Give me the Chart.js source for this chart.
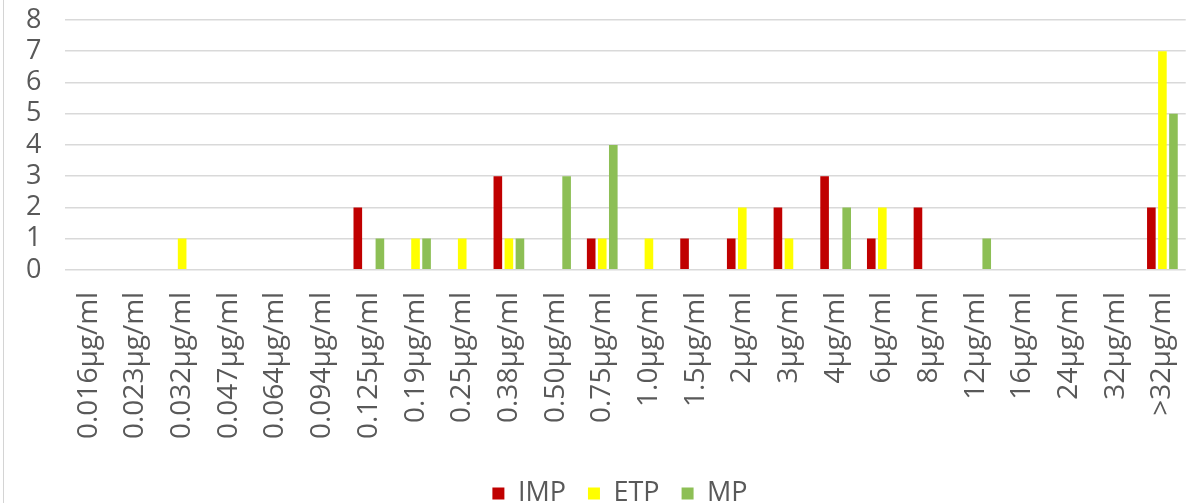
<!DOCTYPE html>
<html>
<head>
<meta charset="utf-8">
<script src="https://cdn.jsdelivr.net/npm/chart.js@4/dist/chart.umd.min.js"></script>
<style>
  html, body { margin: 0; padding: 0; background: #fff; }
  #frame { position: absolute; left: 3px; top: 0; width: 1px; height: 503px; background: #d4d4d4; }
  #mic { position: absolute; left: 0; top: 0; }
</style>
</head>
<body>
<div id="frame"></div>
<canvas id="mic" width="1196" height="503"></canvas>
<script>
const concentrations = ["0.016µg/ml","0.023µg/ml","0.032µg/ml","0.047µg/ml","0.064µg/ml","0.094µg/ml",
  "0.125µg/ml","0.19µg/ml","0.25µg/ml","0.38µg/ml","0.50µg/ml","0.75µg/ml","1.0µg/ml","1.5µg/ml",
  "2µg/ml","3µg/ml","4µg/ml","6µg/ml","8µg/ml","12µg/ml","16µg/ml","24µg/ml","32µg/ml",">32µg/ml"]

const imp = [0,0,0,0,0,0, 2,0,0,3,0,1, 0,1,1,2,3,1, 2,0,0,0,0,2]
const etp = [0,0,1,0,0,0, 0,1,1,1,0,1, 1,0,2,1,0,2, 0,0,0,0,0,7]
const mp  = [0,0,0,0,0,0, 1,1,0,1,3,4, 0,0,0,0,2,0, 0,1,0,0,0,5]

const yMax = 8
const yStep = 1

const textColor = "#595959"
const fontFamily = "'Open Sans', sans-serif"

const ctx = document.getElementById("mic").getContext("2d")
new Chart(ctx, {
  type: "bar",
  data: {
    labels: concentrations,
    datasets: [
      { label: "IMP", data: imp, backgroundColor: "#C00000" },
      { label: "ETP", data: etp, backgroundColor: "#FFFF00" },
      { label: "MP",  data: mp,  backgroundColor: "#8DBF55" }
    ]
  },
  options: {
    responsive: false,
    animation: false,
    layout: { padding: { left: 26, right: -18, top: 20, bottom: -14 } },
    datasets: {
      bar: { categoryPercentage: 0.71, barPercentage: 0.78 }
    },
    scales: {
      x: {
        // tick marks hidden, their length only keeps the labels off the axis
        grid: { display: false, drawTicks: true, tickLength: 22 },
        border: { display: false },
        ticks: {
          color: textColor,
          font: { family: fontFamily, size: 28 },
          minRotation: 90,
          maxRotation: 90,
          autoSkip: false,
          padding: 0
        },
        // extra room between the rotated labels and the legend
        afterFit: scale => { scale.height += 19 }
      },
      y: {
        min: 0,
        max: yMax,
        grid: { color: "#d9d9d9", lineWidth: 1.5, drawTicks: true, tickLength: 24, tickColor: "transparent" },
        border: { display: false },
        ticks: {
          stepSize: yStep,
          autoSkip: false,
          color: textColor,
          font: { family: fontFamily, size: 27 },
          padding: 0
        }
      }
    },
    plugins: {
      legend: {
        position: "bottom",
        labels: {
          color: textColor,
          font: { family: fontFamily, size: 27 },
          boxWidth: 12,
          boxHeight: 12,
          padding: 22
        }
      },
      tooltip: { enabled: false }
    }
  }
})
</script>
</body>
</html>
